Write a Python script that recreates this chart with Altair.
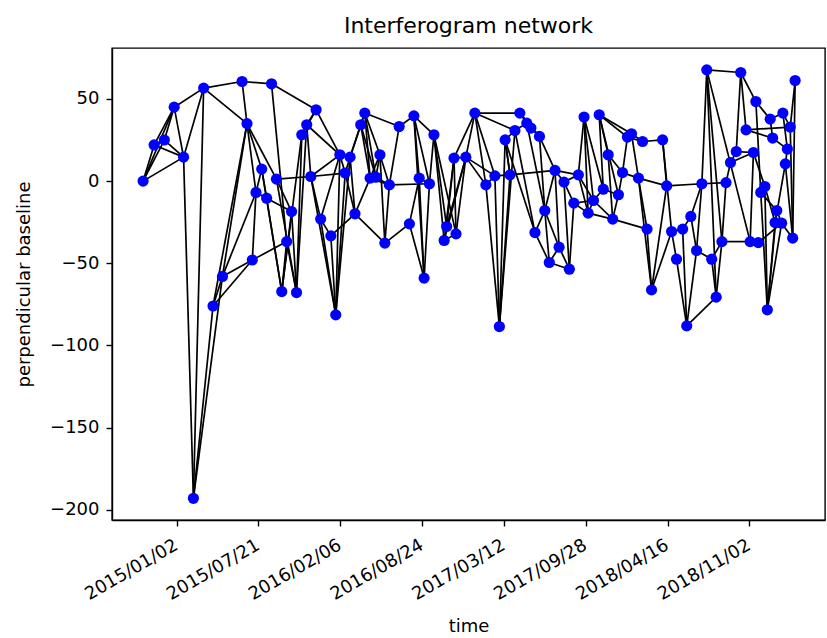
import altair as alt
import pandas as pd

# Acquisition epochs, in days after 2015-01-02, and their perpendicular baselines (m)
acq_days = [
    -82, -55, -30, -6, 17, 41, 66, 89, 112, 160,
    172, 185, 194, 208, 220, 232, 244, 257, 269, 281,
    293, 306, 318, 328, 341, 352, 377, 389, 399, 412,
    424, 436, 450, 460, 473, 487, 497, 509, 520, 544,
    569, 580, 593, 605, 618, 629, 654, 660, 678, 683,
    707, 729, 756, 778, 789, 803, 815, 827, 839, 856,
    866, 876, 887, 900, 911, 925, 935, 947, 960, 971,
    982, 996, 1006, 1019, 1033, 1043, 1055, 1066, 1080, 1090,
    1102, 1112, 1129, 1139, 1150, 1161, 1188, 1198, 1210, 1222,
    1237, 1247, 1257, 1271, 1284, 1296, 1308, 1319, 1333, 1343,
    1354, 1368, 1379, 1392, 1402, 1410, 1416, 1422, 1428, 1438,
    1444, 1451, 1457, 1463, 1467, 1479, 1482, 1488, 1493, 1500,
    1506, 1512,
]
bperp = [
    0, 22, 25, 45, 14.6, -193, 56.6, -76, -58, 60.6,
    35, -48, -6.9, 7.3, -10.4, 59.2, 1.2, -67.2, -36.8, -18.5,
    -67.8, 28.2, 34.3, 2.8, 43.4, -23.1, -33.3, -81.4, 16, 4.9,
    14.6, -19.9, 34.3, 41.4, 1.8, 2.4, 16, -37.7, -2.3, 33.2,
    -26, 39.7, 1.8, -59, -1.6, 28.2, -36.1, -27.6, 14, -32.1,
    14.6, 41.4, -2.3, 3.2, -88.5, 25.1, 3.8, 30.8, 41.4, 35.3,
    32.3, -31.3, 27.2, -17.9, -49.5, 6.5, -40.2, -0.6, -53.6, -13.4,
    3.8, 39, -19.5, -11.8, 40.4, -4.9, 16, -23.1, -8.3, 5.2,
    26.8, 28.8, 1.8, 24.1, -29.2, -66.2, 25.1, -2.9, -30.7, -47.5,
    -29.2, -88.1, -21.5, -42.2, -1.6, 67.7, -47.5, -70.6, -36.8, -0.9,
    11.3, 18, 66.1, 31.2, -36.8, 17.4, 48.4, -37.4, -6.9, -3.3,
    -78.3, 37.7, 26.2, -25.2, -17.9, -25.6, 41.4, 10.5, 19.5, 32.9,
    -34.7, 61.2,
]

# Interferogram pairs (indices into the acquisition lists)
pairs = [
    (0, 1), (0, 2), (0, 3), (0, 4), (1, 2), (1, 3), (1, 4), (2, 3), (2, 4), (3, 4),
    (3, 6), (4, 6), (4, 5), (5, 6), (6, 9), (6, 10), (9, 10), (5, 7), (5, 8), (7, 8),
    (7, 11), (8, 11), (8, 10), (7, 10), (8, 12),
    (9, 15), (15, 24), (15, 18), (10, 12), (10, 13), (10, 16), (12, 13), (12, 14), (13, 14),
    (11, 12), (11, 18), (14, 19), (16, 19), (14, 17), (13, 17), (16, 20), (19, 17), (19, 20),
    (18, 17), (18, 20), (21, 17), (21, 20), (22, 20), (24, 21), (24, 22), (21, 22), (22, 23),
    (23, 25), (23, 27), (25, 26), (25, 27), (26, 27), (27, 28), (27, 29), (27, 30), (28, 29),
    (28, 30), (29, 30), (22, 28), (23, 28), (23, 29), (25, 28), (26, 31), (30, 31), (29, 31),
    (30, 32), (30, 33), (31, 34), (31, 37), (24, 28), (16, 23),
    (32, 33), (33, 36), (32, 34), (32, 35), (33, 34), (33, 35), (36, 34), (36, 35), (36, 37),
    (36, 38), (34, 38), (35, 38), (38, 37), (37, 40), (38, 39), (39, 41), (33, 39), (41, 45),
    (41, 42), (41, 44), (41, 43), (42, 44), (38, 44), (42, 40), (44, 43), (45, 44), (45, 46),
    (45, 47), (45, 49), (42, 43), (40, 43), (48, 46), (48, 47), (48, 49), (50, 46), (50, 47),
    (50, 49), (48, 50), (50, 51), (48, 51), (46, 49),
    (51, 58), (51, 57), (51, 53), (51, 52), (50, 52), (50, 53), (52, 53), (55, 54), (57, 54),
    (53, 54), (56, 54), (56, 55), (53, 56), (56, 65), (58, 59), (58, 60), (59, 60), (57, 59),
    (55, 57), (59, 62), (60, 62), (62, 65), (59, 63), (55, 61), (57, 61), (61, 64), (62, 63),
    (63, 65), (63, 66), (65, 66), (65, 67), (63, 64), (64, 66), (64, 68), (66, 68), (67, 69),
    (67, 68), (69, 68), (65, 70), (67, 70), (69, 72), (70, 71), (61, 63), (58, 62), (52, 54),
    (55, 56),
    (71, 73), (71, 72), (71, 75), (74, 81), (74, 80), (74, 76), (74, 78), (74, 75), (76, 79),
    (76, 77), (79, 80), (79, 82), (81, 82), (81, 83), (83, 86), (86, 87), (86, 88), (82, 84),
    (82, 85), (84, 85), (87, 85), (88, 85), (88, 89), (89, 91), (90, 91), (88, 90), (90, 92),
    (77, 84), (72, 73), (73, 75), (73, 77), (75, 78), (78, 77), (78, 79), (72, 77), (70, 73),
    (82, 87), (80, 83), (70, 72), (69, 73),
    (95, 102), (95, 104), (95, 94), (95, 98), (95, 97), (102, 106), (102, 103), (102, 101),
    (106, 111), (111, 116), (111, 112), (116, 119), (103, 112), (103, 119), (101, 105),
    (100, 101), (100, 99), (99, 98), (99, 94), (94, 87), (94, 92), (94, 93), (93, 96),
    (96, 98), (98, 104), (104, 107), (107, 115), (110, 114), (110, 113), (110, 115),
    (110, 109), (110, 108), (108, 109), (108, 114), (109, 113), (112, 118), (118, 117),
    (117, 113), (119, 120), (121, 120), (116, 118), (115, 120), (97, 96), (97, 98), (91, 97),
    (91, 93), (92, 93), (105, 109), (106, 108), (100, 105), (113, 115), (114, 115),
    (117, 120), (121, 119), (104, 105),
]

tick_labels = [
    "2015/01/02", "2015/07/21", "2016/02/06", "2016/08/24",
    "2017/03/12", "2017/09/28", "2018/04/16", "2018/11/02",
]
y_ticks = [-200, -150, -100, -50, 0, 50]

ref = pd.Timestamp("2015-01-02")
dates = [(ref + pd.Timedelta(days=d)).strftime("%Y-%m-%d") for d in acq_days]

nodes = pd.DataFrame({"date": dates, "bperp": bperp})
edges = pd.DataFrame({
    "d1": [dates[i] for i, j in pairs],
    "b1": [bperp[i] for i, j in pairs],
    "d2": [dates[j] for i, j in pairs],
    "b2": [bperp[j] for i, j in pairs],
})


def utc_day(s):
    t = pd.Timestamp(s.replace("/", "-"))
    return alt.DateTime(year=t.year, month=t.month, date=t.day, utc=True)


x_scale = alt.Scale(
    type="utc",
    domain=[utc_day("2014/07/28"), utc_day("2019/05/06")],
    nice=False,
)
y_scale = alt.Scale(domain=[-206.2, 81], nice=False, zero=False)

x_axis = alt.Axis(
    title="time",
    values=[utc_day(s) for s in tick_labels],
    format="%Y/%m/%d",
    labelAngle=-30,
    labelAlign="right",
    labelBaseline="top",
    labelOffset=-5,
    labelPadding=10,
    labelOverlap=False,
    titlePadding=14,
)
y_axis = alt.Axis(
    title="perpendicular baseline",
    values=y_ticks,
    labelExpr="replace(datum.label, '-', '\u2212')",
    labelPadding=7,
    titlePadding=16,
)

links = alt.Chart(edges).mark_rule(color="black", strokeWidth=1.7).encode(
    x=alt.X("d1:T", scale=x_scale, axis=x_axis),
    x2="d2:T",
    y=alt.Y("b1:Q", scale=y_scale, axis=y_axis),
    y2="b2:Q",
)

dots = alt.Chart(nodes).mark_circle(color="#0000ff", opacity=1, size=125).encode(
    x=alt.X("date:T", scale=x_scale),
    y=alt.Y("bperp:Q", scale=y_scale),
)

chart = (
    alt.layer(links, dots)
    .properties(
        width=713,
        height=472,
        autosize=alt.AutoSizeParams(type="none"),
        padding={"left": 112, "top": 48, "right": 2, "bottom": 118},
        title=alt.TitleParams(
            "Interferogram network",
            font="DejaVu Sans",
            fontSize=22,
            fontWeight="normal",
            color="black",
            offset=10,
        ),
    )
    .configure_view(stroke="black", strokeWidth=1.4)
    .configure_axis(
        grid=False,
        domainColor="black",
        domainWidth=1.4,
        tickColor="black",
        tickSize=6,
        tickWidth=1.4,
        labelFont="DejaVu Sans",
        labelFontSize=18,
        labelColor="black",
        titleFont="DejaVu Sans",
        titleFontSize=18,
        titleFontWeight="normal",
        titleColor="black",
    )
)

chart.save("out.html", embed_options={"renderer": "svg", "actions": False})
